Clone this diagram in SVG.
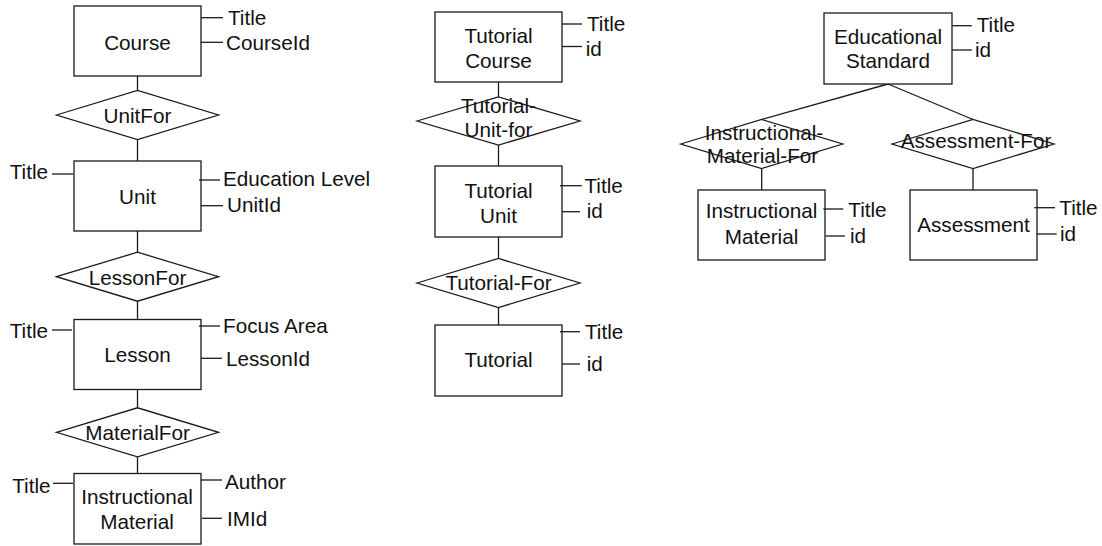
<svg xmlns="http://www.w3.org/2000/svg" width="1102" height="546" viewBox="0 0 1102 546">
<style>
.e{fill:#fff;stroke:#1a1a1a;stroke-width:1.3}
.r{fill:#fff;stroke:#1a1a1a;stroke-width:1.3}
.c line,.a line{stroke:#1a1a1a;stroke-width:1.3}
text{font-family:"Liberation Sans",Arial,sans-serif;font-size:20.7px;fill:#111}
.m{text-anchor:middle}
.n{text-anchor:end}
</style>
<rect width="1102" height="546" fill="#fff"/>
<g id="connectors" class="c">
<line x1="137.5" y1="76" x2="137.5" y2="90.5"/>
<line x1="137.5" y1="139.5" x2="137.5" y2="161"/>
<line x1="137.5" y1="231" x2="137.5" y2="252.2"/>
<line x1="137.5" y1="301.2" x2="137.5" y2="319.5"/>
<line x1="137.5" y1="389.5" x2="137.5" y2="407.8"/>
<line x1="137.5" y1="456.8" x2="137.5" y2="473.5"/>
<line x1="498.5" y1="82" x2="498.5" y2="97"/>
<line x1="498.5" y1="145" x2="498.5" y2="166"/>
<line x1="498.5" y1="237" x2="498.5" y2="258.5"/>
<line x1="498.5" y1="307.5" x2="498.5" y2="325"/>
<line x1="888" y1="84" x2="761.7" y2="119.5"/>
<line x1="888" y1="84" x2="973" y2="119.5"/>
<line x1="761.7" y1="168.5" x2="761.7" y2="190"/>
<line x1="973" y1="168.5" x2="973" y2="190"/>
</g>
<g id="course" class="a">
<rect class="r" x="74" y="6" width="127" height="70"/>
<text class="m" x="137.5" y="50">Course</text>
<line x1="201" y1="17.7" x2="223" y2="17.7"/><text x="228" y="25">Title</text>
<line x1="201" y1="42.3" x2="223" y2="42.3"/><text x="226" y="49.5">CourseId</text>
</g>
<g id="unitfor">
<polygon class="e" points="56.5,115 137.5,90.5 218.5,115 137.5,139.5"/>
<text class="m" x="137.5" y="123">UnitFor</text>
</g>
<g id="unit" class="a">
<rect class="r" x="74" y="161" width="127" height="70"/>
<text class="m" x="137.5" y="204">Unit</text>
<line x1="52" y1="174" x2="73" y2="174"/><text class="n" x="48" y="179">Title</text>
<line x1="199" y1="180" x2="220" y2="180"/><text x="223" y="186">Education Level</text>
<line x1="201" y1="205.7" x2="223" y2="205.7"/><text x="227" y="212">UnitId</text>
</g>
<g id="lessonfor">
<polygon class="e" points="56.5,276.7 137.5,252.2 218.5,276.7 137.5,301.2"/>
<text class="m" x="137.5" y="284.5">LessonFor</text>
</g>
<g id="lesson" class="a">
<rect class="r" x="74" y="319.5" width="127" height="70"/>
<text class="m" x="137.5" y="362">Lesson</text>
<line x1="52" y1="330" x2="72" y2="330"/><text class="n" x="48" y="338">Title</text>
<line x1="199" y1="326" x2="220" y2="326"/><text x="223" y="333">Focus Area</text>
<line x1="201" y1="358.3" x2="222" y2="358.3"/><text x="226" y="365.5">LessonId</text>
</g>
<g id="materialfor">
<polygon class="e" points="56.5,432.3 137.5,407.8 218.5,432.3 137.5,456.8"/>
<text class="m" x="137.5" y="440">MaterialFor</text>
</g>
<g id="instructional-material-1" class="a">
<rect class="r" x="74" y="473.5" width="127" height="70.5"/>
<text class="m" x="137" y="504">Instructional</text>
<text class="m" x="137" y="529">Material</text>
<line x1="53" y1="483.3" x2="73" y2="483.3"/><text class="n" x="50.5" y="492.5">Title</text>
<line x1="201" y1="480" x2="222" y2="480"/><text x="225" y="489">Author</text>
<line x1="202" y1="518.3" x2="222" y2="518.3"/><text x="227" y="526">IMId</text>
</g>
<g id="tutorial-course" class="a">
<rect class="r" x="435" y="12" width="127" height="70"/>
<text class="m" x="498.5" y="43.3">Tutorial</text>
<text class="m" x="498.5" y="67.7">Course</text>
<line x1="562" y1="24" x2="582" y2="24"/><text x="587" y="31">Title</text>
<line x1="562" y1="46.5" x2="582" y2="46.5"/><text x="585.7" y="55.5">id</text>
</g>
<g id="tutorial-unit-for">
<polygon class="e" points="417,121 498.5,97 580,121 498.5,145"/>
<text class="m" x="498.5" y="113">Tutorial-</text>
<text class="m" x="498.5" y="137">Unit-for</text>
</g>
<g id="tutorial-unit" class="a">
<rect class="r" x="435" y="166" width="127" height="71"/>
<text class="m" x="498.5" y="198.3">Tutorial</text>
<text class="m" x="498.5" y="222.7">Unit</text>
<line x1="560" y1="185.7" x2="581.7" y2="185.7"/><text x="584.5" y="193">Title</text>
<line x1="562" y1="211.7" x2="580" y2="211.7"/><text x="586.7" y="218.3">id</text>
</g>
<g id="tutorial-for">
<polygon class="e" points="417,283 498.5,258.5 580,283 498.5,307.5"/>
<text class="m" x="498.5" y="290">Tutorial-For</text>
</g>
<g id="tutorial" class="a">
<rect class="r" x="435" y="325" width="127" height="71"/>
<text class="m" x="498.5" y="366.7">Tutorial</text>
<line x1="560" y1="331.7" x2="580" y2="331.7"/><text x="585" y="339">Title</text>
<line x1="562" y1="364" x2="580" y2="364"/><text x="586.7" y="370.7">id</text>
</g>
<g id="educational-standard" class="a">
<rect class="r" x="824" y="13" width="128" height="71"/>
<text class="m" x="888" y="44.3">Educational</text>
<text class="m" x="888" y="68.3">Standard</text>
<line x1="952" y1="25.7" x2="971.7" y2="25.7"/><text x="976.7" y="32.3">Title</text>
<line x1="952" y1="50" x2="971.7" y2="50"/><text x="975" y="56.7">id</text>
</g>
<g id="instructional-material-for">
<polygon class="e" points="680.7,144 761.7,119.5 842.7,144 761.7,168.5" fill="none"/>
<text class="m" x="764" y="140">Instructional-</text>
<text class="m" x="762.5" y="163.3">Material-For</text>
</g>
<g id="assessment-for">
<polygon class="e" points="892,144 973,119.5 1054,144 973,168.5"/>
<text class="m" x="976" y="148.3">Assessment-For</text>
</g>
<g id="instructional-material-2" class="a">
<rect class="r" x="698" y="190" width="127" height="70"/>
<text class="m" x="761.5" y="218.3">Instructional</text>
<text class="m" x="761.5" y="244">Material</text>
<line x1="823.3" y1="209" x2="843.3" y2="209"/><text x="848.3" y="216.7">Title</text>
<line x1="825.7" y1="236" x2="845" y2="236"/><text x="850" y="242.7">id</text>
</g>
<g id="assessment" class="a">
<rect class="r" x="910" y="190" width="127" height="70"/>
<text class="m" x="973.5" y="231.7">Assessment</text>
<line x1="1034.3" y1="207.7" x2="1055" y2="207.7"/><text x="1059.3" y="215">Title</text>
<line x1="1036.7" y1="234" x2="1056.7" y2="234"/><text x="1060" y="240.7">id</text>
</g>
</svg>
